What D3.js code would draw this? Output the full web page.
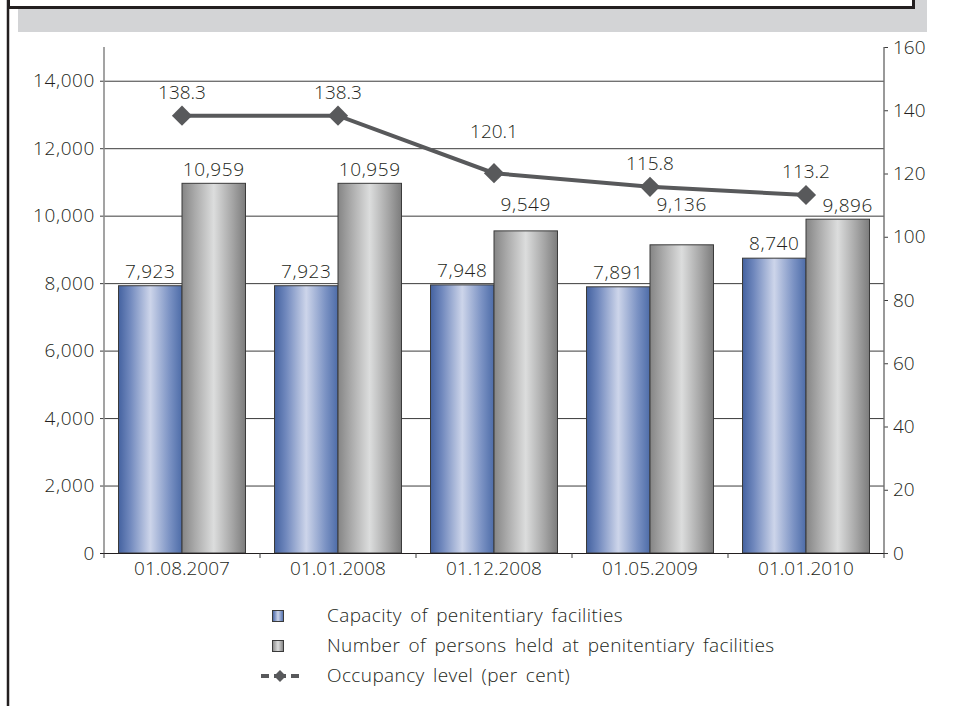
<!DOCTYPE html>
<html>
<head>
<meta charset="utf-8">
<script src="https://cdn.jsdelivr.net/npm/d3@7"></script>
<style>
  html, body { margin: 0; padding: 0; background: #fff; }
  svg { display: block; }
  text { font-family: "Open Sans", "Noto Sans", sans-serif; fill: #231f20; font-weight: 300; }
</style>
</head>
<body>
<svg id="chart" width="954" height="706"></svg>
<script>
// ---- data ----
const categories = ["01.08.2007", "01.01.2008", "01.12.2008", "01.05.2009", "01.01.2010"];
const capacity = [7923, 7923, 7948, 7891, 8740];
const held = [10959, 10959, 9549, 9136, 9896];
const occupancy = [138.3, 138.3, 120.1, 115.8, 113.2];
const leftTicks = [0, 2000, 4000, 6000, 8000, 10000, 12000, 14000];
const rightTicks = [0, 20, 40, 60, 80, 100, 120, 140, 160];
const seriesNames = [
  "Capacity of penitentiary facilities",
  "Number of persons held at penitentiary facilities",
  "Occupancy level (per cent)"
];

// ---- layout ----
const W = 954, H = 706;
const plot = { left: 104, right: 884, top: 47, bottom: 553 };
const FS = 19;
const fmt = d3.format(",");

const svg = d3.select("#chart");
const defs = svg.append("defs");

function barGradient(id, stops) {
  const g = defs.append("linearGradient").attr("id", id)
    .attr("x1", "0%").attr("x2", "100%").attr("y1", "0%").attr("y2", "0%");
  stops.forEach(([o, c]) => g.append("stop").attr("offset", o).attr("stop-color", c));
}
barGradient("gBlue", [["0%", "#4462a0"], ["18%", "#7088bd"], ["50%", "#cdd5ea"], ["80%", "#7c93c4"], ["100%", "#4d6ca8"]]);
barGradient("gGrey", [["0%", "#858585"], ["20%", "#a9a9a9"], ["50%", "#dcdddd"], ["80%", "#a4a4a4"], ["100%", "#7c7c7c"]]);

// frame: shadowed header box and left rule
svg.append("rect").attr("x", 18).attr("y", 0).attr("width", 909).attr("height", 32).attr("fill", "#d3d4d6");
svg.append("rect").attr("x", 8.5).attr("y", -10).attr("width", 905).attr("height", 17.5)
  .attr("fill", "#fff").attr("stroke", "#231f20").attr("stroke-width", 3);
svg.append("line").attr("x1", 8).attr("x2", 8).attr("y1", 0).attr("y2", H)
  .attr("stroke", "#231f20").attr("stroke-width", 2.5);

// scales
const x = d3.scaleBand().domain(categories).range([plot.left, plot.right])
  .paddingInner(0.186).paddingOuter(0.093);
const xs = d3.scaleBand().domain(["capacity", "held"]).range([0, x.bandwidth()]);
const yL = d3.scaleLinear().domain([0, 15000]).range([plot.bottom, plot.top]);
const yR = d3.scaleLinear().domain([0, 160]).range([plot.bottom, plot.top]);

// gridlines
svg.append("g").selectAll("line").data(leftTicks.filter(d => d > 0)).join("line")
  .attr("x1", plot.left).attr("x2", plot.right)
  .attr("y1", d => yL(d) + 0.5).attr("y2", d => yL(d) + 0.5)
  .attr("stroke", "#3c3c3c").attr("stroke-width", 1);

// left axis
const axL = svg.append("g").attr("transform", `translate(${plot.left},0)`)
  .call(d3.axisLeft(yL).tickValues(leftTicks).tickFormat(fmt).tickSize(4).tickPadding(5));
axL.select(".domain").remove();
axL.selectAll(".tick line").attr("stroke", "#3c3c3c");
axL.selectAll(".tick text").attr("font-size", FS).attr("fill", "#231f20")
  .style("font-family", '"Open Sans", sans-serif').attr("letter-spacing", 0.6);
svg.append("line").attr("x1", plot.left).attr("x2", plot.left).attr("y1", plot.top).attr("y2", plot.bottom)
  .attr("stroke", "#8c8c8c").attr("stroke-width", 1.6);

// right axis
const axR = svg.append("g").attr("transform", `translate(${plot.right},0)`)
  .call(d3.axisRight(yR).tickValues(rightTicks).tickSize(4).tickPadding(5));
axR.select(".domain").remove();
axR.selectAll(".tick line").attr("stroke", "#3c3c3c");
axR.selectAll(".tick text").attr("font-size", FS).attr("fill", "#231f20")
  .style("font-family", '"Open Sans", sans-serif');
svg.append("line").attr("x1", plot.right).attr("x2", plot.right).attr("y1", plot.top).attr("y2", plot.bottom)
  .attr("stroke", "#6e6e6e").attr("stroke-width", 1.4);

// bars
const groups = svg.append("g").selectAll("g").data(categories).join("g")
  .attr("transform", d => `translate(${x(d)},0)`);
groups.append("rect")
  .attr("x", xs("capacity")).attr("width", xs.bandwidth())
  .attr("y", (d, i) => yL(capacity[i])).attr("height", (d, i) => plot.bottom - yL(capacity[i]))
  .attr("fill", "url(#gBlue)").attr("stroke", "#3a3a3a").attr("stroke-width", 1);
groups.append("rect")
  .attr("x", xs("held")).attr("width", xs.bandwidth())
  .attr("y", (d, i) => yL(held[i])).attr("height", (d, i) => plot.bottom - yL(held[i]))
  .attr("fill", "url(#gGrey)").attr("stroke", "#3a3a3a").attr("stroke-width", 1);

// category axis
const axB = svg.append("g").attr("transform", `translate(0,${plot.bottom})`)
  .call(d3.axisBottom(x).tickSize(0).tickPadding(9));
axB.select(".domain").remove();
axB.selectAll(".tick text").attr("font-size", FS).attr("fill", "#231f20")
  .style("font-family", '"Open Sans", sans-serif');
svg.append("line").attr("x1", plot.left - 4).attr("x2", plot.right).attr("y1", plot.bottom + 0.5).attr("y2", plot.bottom + 0.5)
  .attr("stroke", "#231f20").attr("stroke-width", 1.2);
const bounds = categories.map(c => x(c) - x.step() * x.paddingInner() / 2).concat([plot.right]);
svg.append("g").selectAll("line").data(bounds).join("line")
  .attr("x1", d => d).attr("x2", d => d).attr("y1", plot.bottom).attr("y2", plot.bottom + 5)
  .attr("stroke", "#3c3c3c");

// bar value labels (a few are lifted to keep clear of the line)
const heldLift = { "01.12.2008": 13, "01.05.2009": 27 };
const heldShift = { "01.01.2010": 10 };
groups.append("text")
  .attr("x", xs("capacity") + xs.bandwidth() / 2)
  .attr("y", (d, i) => yL(capacity[i]) - 8)
  .attr("text-anchor", "middle").attr("font-size", FS).attr("letter-spacing", 0.6)
  .text((d, i) => fmt(capacity[i]));
groups.append("text")
  .attr("x", d => xs("held") + xs.bandwidth() / 2 + (heldShift[d] || 0))
  .attr("y", (d, i) => yL(held[i]) - 7 - (heldLift[d] || 0))
  .attr("text-anchor", "middle").attr("font-size", FS).attr("letter-spacing", 0.6)
  .text((d, i) => fmt(held[i]));

// occupancy line
const cx = d => x(d) + x.bandwidth() / 2;
const line = d3.line().x((d, i) => cx(categories[i])).y(d => yR(d));
svg.append("path").datum(occupancy).attr("d", line)
  .attr("fill", "none").attr("stroke", "#58595b").attr("stroke-width", 4);
const diamond = d3.symbol().type(d3.symbolDiamond2).size(260);
svg.append("g").selectAll("path").data(occupancy).join("path")
  .attr("d", diamond)
  .attr("transform", (d, i) => `translate(${cx(categories[i])},${yR(d)})`)
  .attr("fill", "#58595b");
const occLift = { "01.12.2008": 18 };
svg.append("g").selectAll("text").data(occupancy).join("text")
  .attr("x", (d, i) => cx(categories[i]))
  .attr("y", (d, i) => yR(d) - 17 - (occLift[categories[i]] || 0))
  .attr("text-anchor", "middle").attr("font-size", FS)
  .text(d => d.toFixed(1));

// legend
const lg = svg.append("g").attr("transform", "translate(272,616)");
const rowGap = 30;
[["url(#gBlue)"], ["url(#gGrey)"]].forEach(([fill], i) => {
  lg.append("rect").attr("x", 0.5).attr("y", i * rowGap - 5.5).attr("width", 11).attr("height", 11)
    .attr("fill", fill).attr("stroke", "#3a3a3a").attr("stroke-width", 1);
});
lg.append("line").attr("x1", -11).attr("x2", 27).attr("y1", 2 * rowGap).attr("y2", 2 * rowGap)
  .attr("stroke", "#58595b").attr("stroke-width", 4).attr("stroke-dasharray", "8,5,12,5,8");
lg.append("path").attr("d", d3.symbol().type(d3.symbolDiamond2).size(90)())
  .attr("transform", `translate(8,${2 * rowGap})`).attr("fill", "#58595b");
lg.selectAll("text.lab").data(seriesNames).join("text")
  .attr("class", "lab")
  .attr("x", 55).attr("y", (d, i) => i * rowGap + 6)
  .attr("font-size", FS).attr("word-spacing", 3).attr("letter-spacing", 0.4)
  .text(d => d);
</script>
</body>
</html>
